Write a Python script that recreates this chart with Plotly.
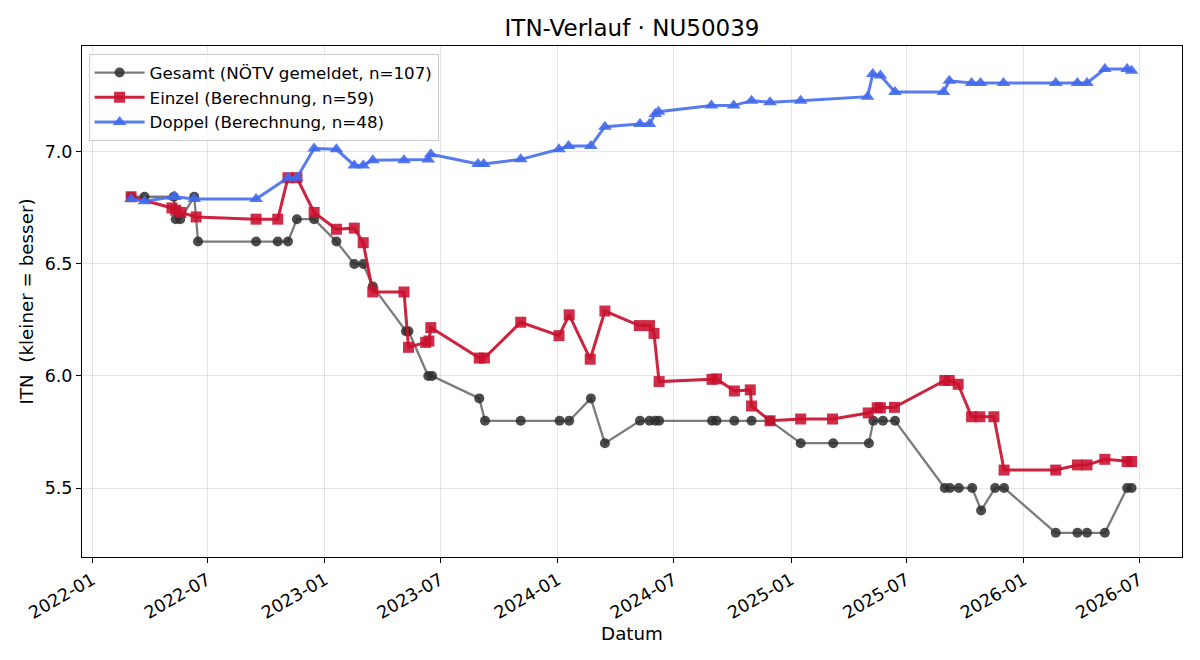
import plotly.graph_objects as go

# ---- data ----
gesamt_dates = [
    "2022-03-03", "2022-03-24", "2022-05-09", "2022-05-12", "2022-05-19", "2022-06-10",
    "2022-06-16", "2022-09-15", "2022-10-19", "2022-11-04", "2022-11-18", "2022-12-15",
    "2023-01-19", "2023-02-16", "2023-03-02", "2023-03-17", "2023-05-08", "2023-05-12",
    "2023-06-12", "2023-06-18", "2023-08-31", "2023-09-09", "2023-11-04", "2024-01-04",
    "2024-01-19", "2024-02-22", "2024-03-15", "2024-05-09", "2024-05-24", "2024-06-02",
    "2024-06-08", "2024-08-30", "2024-09-06", "2024-10-04", "2024-10-31", "2024-11-29",
    "2025-01-16", "2025-03-08", "2025-05-03", "2025-05-10", "2025-05-25", "2025-06-13",
    "2025-08-30", "2025-09-07", "2025-09-21", "2025-10-12", "2025-10-26", "2025-11-17",
    "2025-12-01", "2026-02-20", "2026-03-26", "2026-04-10", "2026-05-08", "2026-06-12",
    "2026-06-19",
]
gesamt_itn = [
    6.80, 6.80, 6.80, 6.70, 6.70, 6.80,
    6.60, 6.60, 6.60, 6.60, 6.70, 6.70,
    6.60, 6.50, 6.50, 6.40, 6.20, 6.20,
    6.00, 6.00, 5.90, 5.80, 5.80, 5.80,
    5.80, 5.90, 5.70, 5.80, 5.80, 5.80,
    5.80, 5.80, 5.80, 5.80, 5.80, 5.80,
    5.70, 5.70, 5.70, 5.80, 5.80, 5.80,
    5.50, 5.50, 5.50, 5.50, 5.40, 5.50,
    5.50, 5.30, 5.30, 5.30, 5.30, 5.50,
    5.50,
]

einzel_dates = [
    "2022-03-03", "2022-05-06", "2022-05-12", "2022-05-20", "2022-06-13", "2022-09-15",
    "2022-10-19", "2022-11-04", "2022-11-18", "2022-12-15", "2023-01-19", "2023-02-16",
    "2023-03-02", "2023-03-17", "2023-05-05", "2023-05-12", "2023-06-08", "2023-06-13",
    "2023-06-16", "2023-08-31", "2023-09-08", "2023-11-04", "2024-01-03", "2024-01-19",
    "2024-02-21", "2024-03-15", "2024-05-08", "2024-05-24", "2024-05-31", "2024-06-08",
    "2024-08-30", "2024-09-06", "2024-10-04", "2024-10-29", "2024-10-31", "2024-11-29",
    "2025-01-16", "2025-03-07", "2025-05-02", "2025-05-16", "2025-05-21", "2025-06-12",
    "2025-08-30", "2025-09-06", "2025-09-20", "2025-10-11", "2025-10-24", "2025-11-15",
    "2025-12-01", "2026-02-20", "2026-03-26", "2026-04-10", "2026-05-08", "2026-06-12",
    "2026-06-19",
]
einzel_itn = [
    6.80, 6.75, 6.74, 6.73, 6.71, 6.70,
    6.70, 6.885, 6.885, 6.73, 6.655, 6.66,
    6.595, 6.375, 6.375, 6.128, 6.15, 6.156,
    6.216, 6.08, 6.08, 6.24, 6.18, 6.273,
    6.075, 6.29, 6.225, 6.225, 6.19, 5.975,
    5.985, 5.987, 5.933, 5.938, 5.866, 5.80,
    5.808, 5.808, 5.835, 5.858, 5.858, 5.86,
    5.98, 5.98, 5.963, 5.818, 5.818, 5.818,
    5.58, 5.58, 5.603, 5.603, 5.628, 5.618,
    5.618,
]

doppel_dates = [
    "2022-03-03", "2022-03-24", "2022-05-09", "2022-05-11", "2022-06-10", "2022-09-15",
    "2022-11-04", "2022-11-18", "2022-12-15", "2023-01-19", "2023-02-16", "2023-03-02",
    "2023-03-17", "2023-05-05", "2023-06-12", "2023-06-16", "2023-08-29", "2023-09-07",
    "2023-11-04", "2024-01-03", "2024-01-18", "2024-02-22", "2024-03-15", "2024-05-09",
    "2024-05-24", "2024-06-02", "2024-06-07", "2024-08-29", "2024-10-03", "2024-10-31",
    "2024-11-29", "2025-01-16", "2025-05-01", "2025-05-09", "2025-05-21", "2025-06-13",
    "2025-08-28", "2025-09-06", "2025-10-11", "2025-10-25", "2025-11-30", "2026-02-20",
    "2026-03-26", "2026-04-10", "2026-05-08", "2026-06-12", "2026-06-19",
]
doppel_itn = [
    6.79, 6.78, 6.80, 6.80, 6.79, 6.79,
    6.885, 6.885, 7.015, 7.012, 6.94, 6.94,
    6.963, 6.963, 6.966, 6.99, 6.946, 6.946,
    6.967, 7.012, 7.027, 7.027, 7.113, 7.125,
    7.125, 7.17, 7.18, 7.207, 7.207, 7.229,
    7.222, 7.229, 7.247, 7.348, 7.341, 7.268,
    7.268, 7.318, 7.308, 7.308, 7.308, 7.308,
    7.308, 7.308, 7.37, 7.37, 7.363,
]

x_ticks = ["2022-01-01", "2022-07-01", "2023-01-01", "2023-07-01", "2024-01-01",
           "2024-07-01", "2025-01-01", "2025-07-01", "2026-01-01", "2026-07-01"]
x_ticklabels = ["2022-01", "2022-07", "2023-01", "2023-07", "2024-01",
                "2024-07", "2025-01", "2025-07", "2026-01", "2026-07"]
y_ticks = [5.5, 6.0, 6.5, 7.0]

FONT = "DejaVu Sans"

fig = go.Figure()
fig.add_trace(go.Scatter(
    x=gesamt_dates, y=gesamt_itn, mode="lines+markers",
    name="Gesamt (NÖTV gemeldet, n=107)",
    line=dict(color="rgba(60,60,60,0.68)", width=2.3),
    marker=dict(symbol="circle", size=10, color="rgba(45,45,45,0.85)", line=dict(width=0)),
))
fig.add_trace(go.Scatter(
    x=einzel_dates, y=einzel_itn, mode="lines+markers",
    name="Einzel (Berechnung, n=59)",
    line=dict(color="rgba(200,16,46,0.92)", width=3),
    marker=dict(symbol="square", size=11, color="rgba(200,16,46,0.88)", line=dict(width=0)),
))
fig.add_trace(go.Scatter(
    x=doppel_dates, y=doppel_itn, mode="lines+markers",
    name="Doppel (Berechnung, n=48)",
    line=dict(color="rgba(65,105,235,0.88)", width=3),
    marker=dict(symbol="triangle-up", size=12, color="rgba(65,105,235,0.9)", line=dict(width=0)),
))

fig.update_layout(
    width=1200, height=660,
    margin=dict(l=82, r=18, t=46, b=103),
    paper_bgcolor="white", plot_bgcolor="white",
    font=dict(family=FONT, size=16, color="black"),
    title=dict(text="ITN-Verlauf · NU50039", x=0.5, xref="paper", xanchor="center",
               y=1 - 28 / 660, yanchor="middle", font=dict(family=FONT, size=23)),
    showlegend=True,
    legend=dict(x=0.006, y=0.984, xanchor="left", yanchor="top",
                bgcolor="rgba(255,255,255,0.8)", bordercolor="#cccccc", borderwidth=1,
                font=dict(family=FONT, size=16.7), tracegroupgap=0, itemwidth=50),
    xaxis=dict(
        type="date", range=["2021-12-16", "2026-09-06"],
        tickmode="array", tickvals=x_ticks, ticktext=x_ticklabels, tickangle=-30,
        ticks="outside", ticklen=5, tickcolor="black", tickfont=dict(size=17.5),
        showgrid=True, gridcolor="rgba(0,0,0,0.1)", gridwidth=1,
        showline=True, linecolor="black", linewidth=1, mirror=True, zeroline=False,
        title=dict(text="Datum", font=dict(size=18.3), standoff=5),
    ),
    yaxis=dict(
        range=[5.192, 7.473],
        tickmode="array", tickvals=y_ticks, ticktext=[f"{v:.1f}" for v in y_ticks],
        ticks="outside", ticklen=5, tickcolor="black", tickfont=dict(size=17.5),
        showgrid=True, gridcolor="rgba(0,0,0,0.1)", gridwidth=1,
        showline=True, linecolor="black", linewidth=1, mirror=True, zeroline=False,
        title=dict(text="ITN  (kleiner = besser)", font=dict(size=18.3), standoff=6),
    ),
)

fig.write_html("out.html")
